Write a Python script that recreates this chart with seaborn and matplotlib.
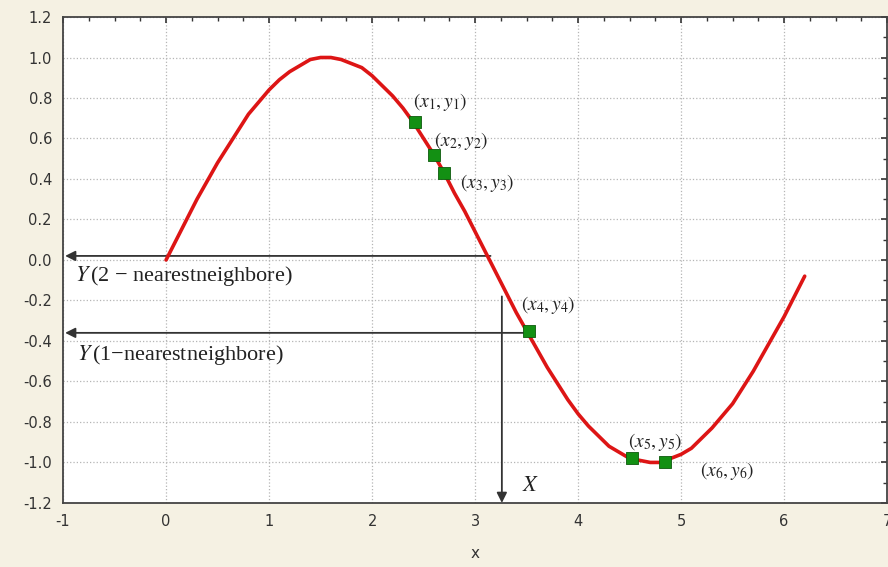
import seaborn as sns
import matplotlib.pyplot as plt
from matplotlib.ticker import MultipleLocator

# curve
curve_x = [0.0, 0.1, 0.2, 0.3, 0.4, 0.5, 0.6, 0.7, 0.8, 0.9, 1.0, 1.1, 1.2, 1.3, 1.4, 1.5,
           1.6, 1.7, 1.8, 1.9, 2.0, 2.1, 2.2, 2.3, 2.4, 2.5, 2.6, 2.7, 2.8, 2.9, 3.0, 3.1,
           3.2, 3.3, 3.4, 3.5, 3.6, 3.7, 3.8, 3.9, 4.0, 4.1, 4.2, 4.3, 4.4, 4.5, 4.6, 4.7,
           4.8, 4.9, 5.0, 5.1, 5.2, 5.3, 5.4, 5.5, 5.6, 5.7, 5.8, 5.9, 6.0, 6.1, 6.2]
curve_y = [0.00, 0.10, 0.20, 0.30, 0.39, 0.48, 0.56, 0.64, 0.72, 0.78, 0.84, 0.89, 0.93, 0.96, 0.99, 1.00,
           1.00, 0.99, 0.97, 0.95, 0.91, 0.86, 0.81, 0.75, 0.68, 0.60, 0.52, 0.43, 0.33, 0.24, 0.14, 0.04,
           -0.06, -0.16, -0.26, -0.35, -0.44, -0.53, -0.61, -0.69, -0.76, -0.82, -0.87, -0.92, -0.95, -0.98, -0.99, -1.00,
           -1.00, -0.98, -0.96, -0.93, -0.88, -0.83, -0.77, -0.71, -0.63, -0.55, -0.46, -0.37, -0.28, -0.18, -0.08]

# sample points
pts_x = [2.42, 2.60, 2.70, 3.52, 4.52, 4.84]
pts_y = [0.68, 0.52, 0.43, -0.35, -0.98, -1.00]
pts_lbl = [r"$(x_1,y_1)$", r"$(x_2,y_2)$", r"$(x_3,y_3)$", r"$(x_4,y_4)$", r"$(x_5,y_5)$", r"$(x_6,y_6)$"]
lbl_pos = [(2.40, 0.78), (2.60, 0.59), (2.85, 0.38), (3.45, -0.22), (4.48, -0.90), (5.18, -1.04)]

# query point and the two estimates
query_x = 3.26
est2_y = 0.02
est1_y = -0.36

sns.set_style("white")
plt.rcParams["font.family"] = ["DejaVu Sans"]
plt.rcParams["mathtext.fontset"] = "stix"
plt.rcParams["axes.unicode_minus"] = False

fig = plt.figure(figsize=(8.88, 5.67), dpi=100, facecolor="#f5f1e3")
ax = fig.add_axes([0.071, 0.113, 0.928, 0.857])
ax.set_facecolor("white")

sns.lineplot(x=curve_x, y=curve_y, ax=ax, color="#dd1515", lw=2.6, sort=False, zorder=3)
sns.scatterplot(x=pts_x, y=pts_y, ax=ax, marker="s", s=75, color="#139013",
                edgecolor="#0c5a0c", linewidth=0.6, zorder=4)

serif = ["Liberation Serif", "DejaVu Serif"]
for (lx, ly), t in zip(lbl_pos, pts_lbl):
    ax.text(lx, ly, t, fontsize=14, ha="left", va="center", family=serif, color="#222222", zorder=5)

arrow = dict(arrowstyle="-|>", color="#333333", lw=1.3, mutation_scale=15, shrinkA=0, shrinkB=0)
ax.annotate("", xy=(-0.98, est2_y), xytext=(3.15, est2_y), arrowprops=arrow, zorder=2)
ax.annotate("", xy=(-0.98, est1_y), xytext=(pts_x[3], est1_y), arrowprops=arrow, zorder=2)
ax.annotate("", xy=(query_x, -1.2), xytext=(query_x, -0.18), arrowprops=arrow, zorder=2)

ax.text(-0.88, -0.08, r"$Y\,$(2 − nearestneighbore)", fontsize=16, family=serif, va="center", color="#222222")
ax.text(-0.86, -0.47, r"$Y\,$(1−nearestneighbore)", fontsize=16, family=serif, va="center", color="#222222")
ax.text(3.46, -1.12, r"$X$", fontsize=16, family=serif, va="center", color="#222222")

ax.set_xlim(-1, 7)
ax.set_ylim(-1.2, 1.2)
ax.xaxis.set_major_locator(MultipleLocator(1))
ax.xaxis.set_minor_locator(MultipleLocator(0.25))
ax.yaxis.set_major_locator(MultipleLocator(0.2))
ax.yaxis.set_minor_locator(MultipleLocator(0.1))
ax.set_yticks(ax.get_yticks())
ax.set_yticklabels([f"{v:.1f}" for v in ax.get_yticks()])
ax.set_ylim(-1.2, 1.2)
ax.grid(True, which="major", linestyle=":", color="#b5b5b5", lw=0.9)
ax.tick_params(which="both", direction="in", top=True, right=True, color="#333333",
               labelsize=10.5, labelcolor="#333333")
ax.tick_params(which="major", length=4, width=1.2, pad=8)
ax.tick_params(which="minor", length=3, width=1)
for s in ax.spines.values():
    s.set_color("#444444")
    s.set_linewidth(1.3)
ax.set_xlabel("x", fontsize=11, color="#333333", labelpad=12)
ax.set_ylabel("")

fig.savefig("out.png", dpi=100, facecolor=fig.get_facecolor())
